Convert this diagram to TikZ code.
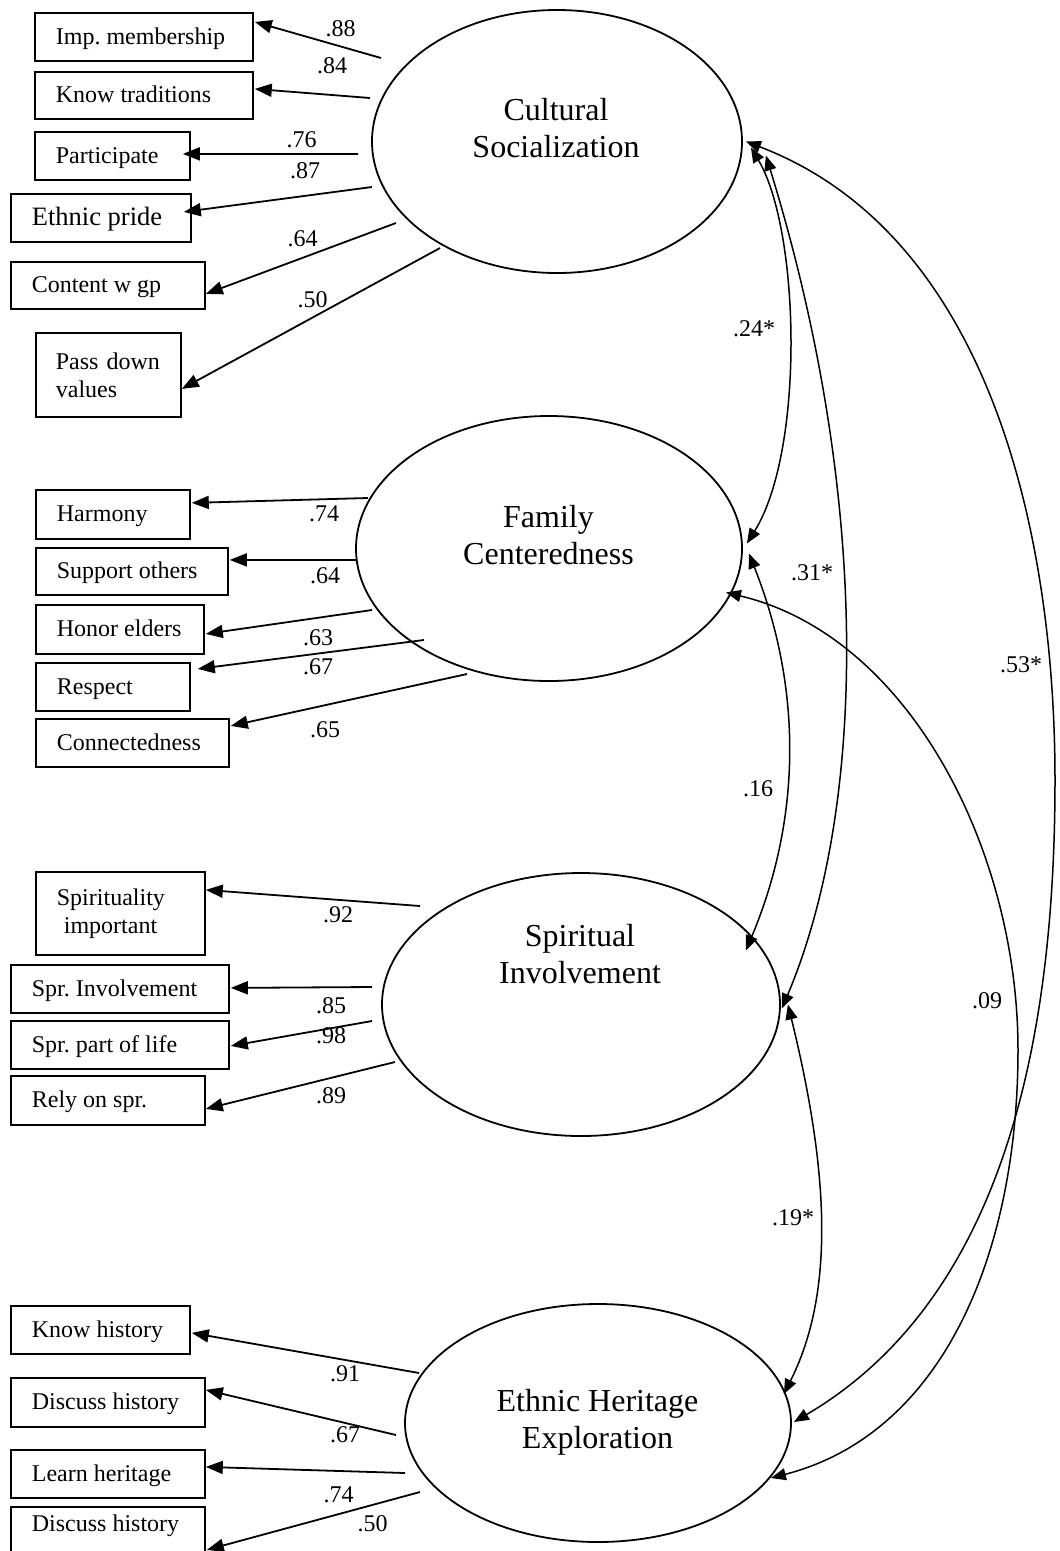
\documentclass[tikz,border=0pt]{standalone}
\usepackage{fontspec}
\setmainfont{Liberation Serif}
\usetikzlibrary{shapes.geometric,arrows.meta,calc}
\frenchspacing
% fixed-width, left-aligned box content that never wraps
\newcommand{\lbx}[2]{\makebox[#1][l]{#2}}

\begin{document}
\begin{tikzpicture}[x=1pt,y=-1pt,
  latent/.style={draw, ellipse, line width=1.8pt, inner sep=0pt},
  lname/.style={font=\fontsize{32}{37}\selectfont, align=center, inner sep=0pt},
  obs/.style={draw, line width=1.8pt, anchor=north west, inner xsep=21pt, inner ysep=0pt,
    font=\fontsize{24}{28}\selectfont, text height=18pt, text depth=3pt},
  obstwo/.style={draw, line width=1.8pt, anchor=north west, inner xsep=21pt, inner ysep=0pt,
    align=left, font=\fontsize{24}{28}\selectfont},
  load/.style={line width=1.8pt, -{Triangle[length=17pt,width=13pt]}},
  cov/.style={line width=1.5pt, {Triangle[length=15pt,width=12pt]}-{Triangle[length=15pt,width=12pt]}},
  coef/.style={font=\fontsize{24}{28}\selectfont, inner sep=0pt},
]
\fill[white] (0,0) rectangle (1060,1551);
\useasboundingbox (0,0) rectangle (1060,1551);

% ---------- latent factors ----------
\node[latent, minimum width=370pt, minimum height=263pt] (cs) at (557,141.5) {};
\node[latent, minimum width=386pt, minimum height=265pt] (fc) at (549,548.5) {};
\node[latent, minimum width=398pt, minimum height=263pt] (si) at (581,1004.5) {};
\node[latent, minimum width=386pt, minimum height=238pt] (eh) at (598,1423) {};

\node[lname] (csname) at (556,128.5) {Cultural\\Socialization};
\node[lname] (fcname) at (548.5,535.5) {Family\\Centeredness};
\node[lname] (siname) at (580,954.5) {Spiritual\\Involvement};
\node[lname] (ehname) at (597.5,1422) {Ethnic Heritage\\Exploration};

% ---------- indicators: Cultural Socialization ----------
\node[obs, minimum height=48pt] (b1) at (34,12) {\lbx{176pt}{Imp. membership}};
\node[obs, minimum height=47pt] (b2) at (34,71) {\lbx{176pt}{Know traditions}};
\node[obs, minimum height=48pt] (b3) at (34,131) {\lbx{113pt}{Participate}};
\node[obs, minimum height=48pt, font=\fontsize{26.5}{30}\selectfont] (b4) at (10,193) {\lbx{138pt}{Ethnic pride}};
\node[obs, minimum height=47pt] (b5) at (10,261) {\lbx{152pt}{Content w gp}};
\node[obstwo, inner xsep=20pt, text width=105pt, minimum height=84pt] (b6) at (35,332) {Pass down\\values};

% ---------- indicators: Family Centeredness ----------
\node[obs, minimum height=49pt] (f1) at (35,489) {\lbx{112pt}{Harmony}};
\node[obs, minimum height=47pt] (f2) at (35,547) {\lbx{150pt}{Support others}};
\node[obs, minimum height=49pt] (f3) at (35,604) {\lbx{126pt}{Honor elders}};
\node[obs, minimum height=48pt] (f4) at (35,662) {\lbx{112pt}{Respect}};
\node[obs, minimum height=48pt] (f5) at (35,718) {\lbx{151pt}{Connectedness}};

% ---------- indicators: Spiritual Involvement ----------
\node[obstwo, text width=127pt, minimum height=83pt] (s1) at (35,871) {Spirituality\\\hspace*{7pt}important};
\node[obs, minimum height=48pt] (s2) at (10,964) {\lbx{176pt}{Spr. Involvement}};
\node[obs, minimum height=48pt] (s3) at (10,1020) {\lbx{176pt}{Spr. part of life}};
\node[obs, minimum height=49pt] (s4) at (10,1075) {\lbx{152pt}{Rely on spr.}};

% ---------- indicators: Ethnic Heritage Exploration ----------
\node[obs, minimum height=48pt] (h1) at (10,1305) {\lbx{137pt}{Know history}};
\node[obs, minimum height=49pt] (h2) at (10,1377) {\lbx{152pt}{Discuss history}};
\node[obs, minimum height=48pt] (h3) at (10,1449) {\lbx{152pt}{Learn heritage}};
\node[obs, minimum height=50pt, text height=11pt, text depth=11pt] (h4) at (10,1506) {\lbx{152pt}{Discuss history}};

% ---------- loading arrows (tails start beside each factor) ----------
\coordinate (tc1) at (381,58);
\coordinate (tc2) at (370,98);
\coordinate (tc3) at (358,154);
\coordinate (tc4) at (372,187);
\coordinate (tc5) at (396,223);
\coordinate (tc6) at (440,248);
\draw[load] (tc1) -- ($(b1.east)+(1,-15)$);
\draw[load] (tc2) -- ($(b2.east)+(1,-6.5)$);
\draw[load] (tc3) -- ($(b3.east)+(-8,-2)$);
\draw[load] (tc4) -- ($(b4.east)+(-8,-6)$);
\draw[load] (tc5) -- ($(b5.east)+(0,8.5)$);
\draw[load] (tc6) -- ($(b6.east)+(0,14)$);

\coordinate (tf1) at (368,498);
\coordinate (tf2) at (356,560);
\coordinate (tf3) at (372,610);
\coordinate (tf4) at (424,640);
\coordinate (tf5) at (467,674);
\draw[load] (tf1) -- ($(f1.east)+(1,-11.5)$);
\draw[load] (tf2) -- ($(f2.east)+(1,-11.5)$);
\draw[load] (tf3) -- ($(f3.east)+(1,4.5)$);
\draw[load] (tf4) -- ($(f4.east)+(7,-18)$);
\draw[load] (tf5) -- ($(f5.east)+(1,-17)$);

\coordinate (ts1) at (420,906);
\coordinate (ts2) at (372,987);
\coordinate (ts3) at (372,1021);
\coordinate (ts4) at (395,1062);
\draw[load] (ts1) -- ($(s1.east)+(0,-23.5)$);
\draw[load] (ts2) -- ($(s2.east)+(1,-1)$);
\draw[load] (ts3) -- ($(s3.east)+(1,1)$);
\draw[load] (ts4) -- ($(s4.east)+(0,8.5)$);

\coordinate (th1) at (419,1373);
\coordinate (th2) at (396,1435);
\coordinate (th3) at (405,1473);
\coordinate (th4) at (420,1492);
\draw[load] (th1) -- ($(h1.east)+(1,3)$);
\draw[load] (th2) -- ($(h2.east)+(0,-12.5)$);
\draw[load] (th3) -- ($(h3.east)+(0,-7)$);
\draw[load] (th4) -- ($(h4.east)+(1,18)$);

% ---------- loading values ----------
\node[coef] (vc1) at (340.5,29) {.88};
\node[coef] (vc2) at (332,66) {.84};
\node[coef] (vc3) at (301.5,139.5) {.76};
\node[coef] (vc4) at (305,171) {.87};
\node[coef] (vc5) at (302.5,239) {.64};
\node[coef] (vc6) at (312.5,300) {.50};

\node[coef] (vf1) at (324,513.5) {.74};
\node[coef] (vf2) at (325,575.5) {.64};
\node[coef] (vf3) at (318,638) {.63};
\node[coef] (vf4) at (318,667) {.67};
\node[coef] (vf5) at (325,729.5) {.65};

\node[coef] (vs1) at (338,914.5) {.92};
\node[coef] (vs2) at (331,1005.5) {.85};
\node[coef] (vs3) at (331,1035.5) {.98};
\node[coef] (vs4) at (331,1096) {.89};

\node[coef] (vh1) at (345,1373.5) {.91};
\node[coef] (vh2) at (345,1434.5) {.67};
\node[coef] (vh3) at (338.5,1494.5) {.74};
\node[coef] (vh4) at (372.5,1523.5) {.50};

% ---------- factor covariances ----------
\draw[cov] ($(cs.east)+(8,6)$) .. controls (800,230) and (805,450) .. ($(fc.east)+(4,-5)$);
\draw[cov] ($(cs.east)+(23,14)$) .. controls (869,490) and (869,802) .. ($(si.east)+(1,4)$);
\draw[cov] ($(fc.east)+(6,5)$) .. controls (802,687) and (802,817) .. ($(si.east)+(-35,-54)$);
\draw[cov] ($(si.east)+(7,0)$) .. controls (832,1184) and (832,1298) .. ($(eh.east)+(-8,-29)$);
\draw[cov] ($(cs.east)+(3,0)$) .. controls (988,234) and (1055,530) .. (1055,780)
  .. controls (1055,1030) and (1008,1296) .. ($(eh.east)+(2,-1)$);
\draw[cov] ($(fc.east)+(-17,44)$) .. controls (909,636) and (1018,850) .. (1018,1050)
  .. controls (1018,1250) and (945,1433) .. ($(eh.east)+(-21,55)$);

\node[coef] (vcf) at (754,329) {.24*};
\node[coef] (vcs) at (812,573) {.31*};
\node[coef] (vfs) at (758,789) {.16};
\node[coef] (vce) at (1021,665) {.53*};
\node[coef] (vfe) at (987,1001) {.09};
\node[coef] (vse) at (793,1218) {.19*};
\end{tikzpicture}
\end{document}
